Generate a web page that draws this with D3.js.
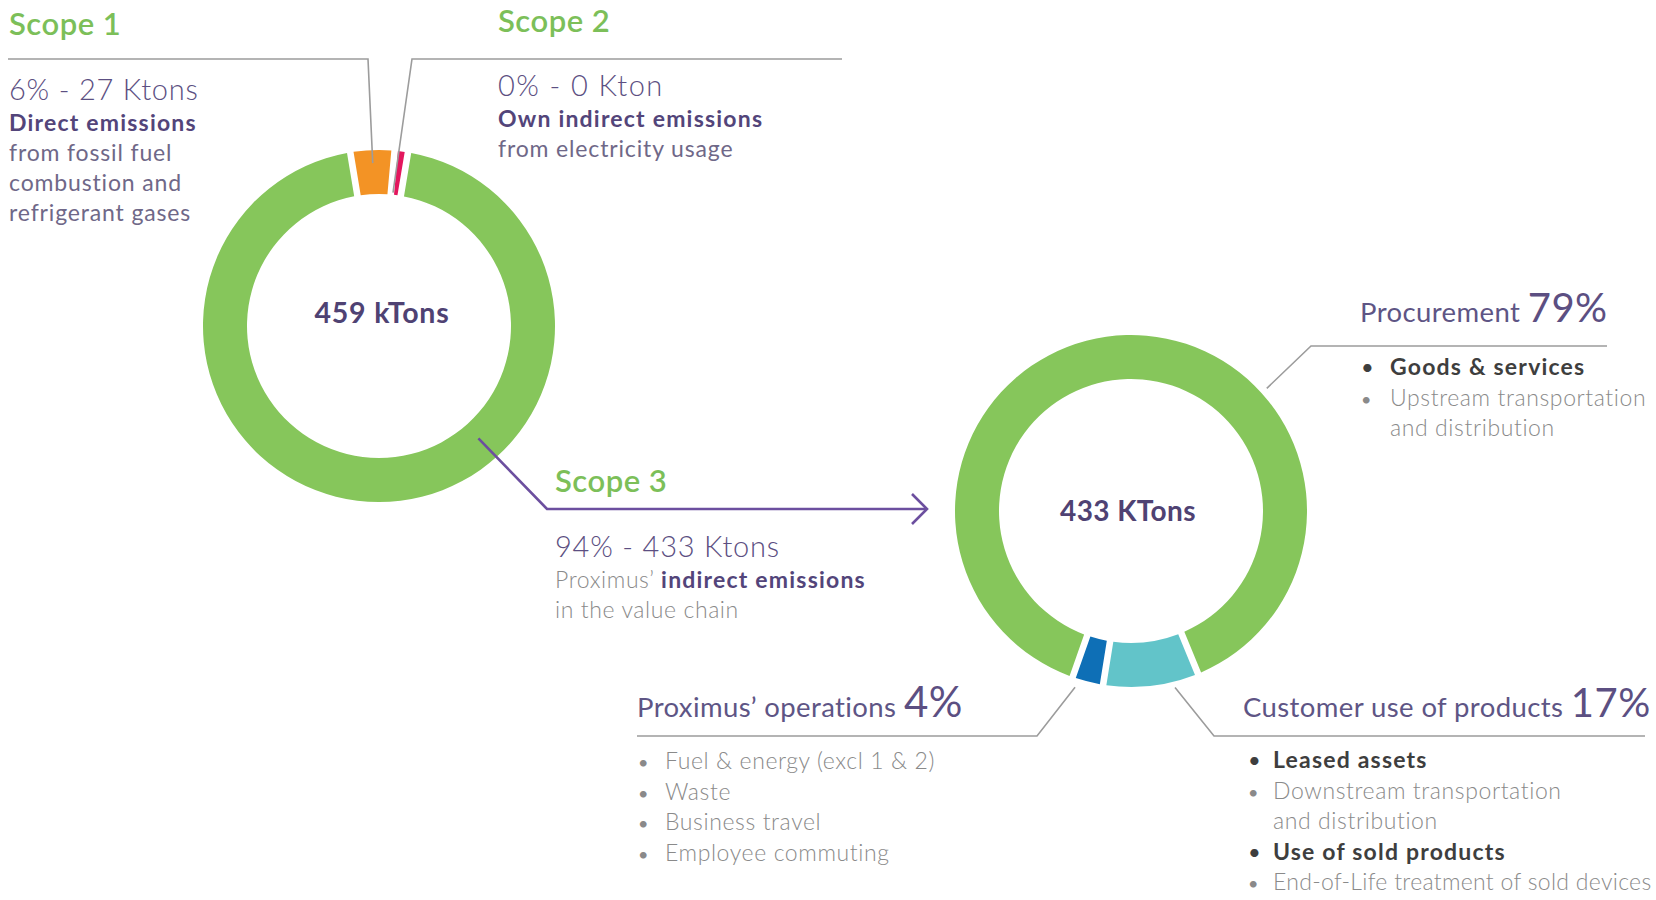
<!DOCTYPE html>
<html><head><meta charset="utf-8">
<script src="https://cdn.jsdelivr.net/npm/d3@7"></script>
<style>
html,body{margin:0;padding:0;background:#fff;}
svg text{font-family:Lato,"Noto Sans",sans-serif;}
</style></head><body>
<svg id="chart" width="1656" height="900"></svg>
<script>
// ---------------- data ----------------
const scopeNames = ["Scope 1", "Scope 2", "Scope 3"];
const scopePercents = [6, 0, 94];
const scopeKtons = [27, 0, 433];
const scopeUnits = ["Ktons", "Kton", "Ktons"];
const totalLabel = "459 kTons";
// share of the ring each slice occupies as drawn in the picture (%)
const scopeArcShares = [3.6, 0.75, 95.65];
const scopeColors = ["#f39325", "#e3175d", "#86c65b"];

const scope3Categories = ["Customer use of products", "Proximus\u2019 operations", "Procurement"];
const scope3Percents = [17, 4, 79];
const scope3ArcShares = [8.4, 2.4, 89.2];
const scope3Colors = ["#62c4c9", "#0e6fb6", "#86c65b"];
const scope3TotalLabel = "433 KTons";

const procurementItems = ["Goods & services", "Upstream transportation", "and distribution"];
const procurementBold = [true, false, false];
const procurementBullet = [true, true, false];
const operationsItems = ["Fuel & energy (excl 1 & 2)", "Waste", "Business travel", "Employee commuting"];
const customerItems = ["Leased assets", "Downstream transportation", "and distribution", "Use of sold products", "End-of-Life treatment of sold devices"];
const customerBold = [true, false, false, true, false];
const customerBullet = [true, true, false, true, true];

// ---------------- layout ----------------
const svg = d3.select("#chart");
const C1 = {x: 379, y: 326}, C2 = {x: 1131, y: 511};
const R_IN = 132, R_OUT = 176;
const rad = d => d * Math.PI / 180;
const polar = (c, r, a) => [c.x + r * Math.sin(rad(a)), c.y - r * Math.cos(rad(a))];

const arcGen = d3.arc().innerRadius(R_IN).outerRadius(R_OUT);

function donut(center, shares, colors, startDeg) {
  const pie = d3.pie().sort(null).value(d => d)
    .startAngle(rad(startDeg)).endAngle(rad(startDeg + 360)).padAngle(0.03);
  const g = svg.append("g").attr("transform", `translate(${center.x},${center.y})`);
  g.selectAll("path").data(pie(shares)).join("path")
    .attr("d", arcGen).attr("fill", (d, i) => colors[i]);
  return g;
}
donut(C1, scopeArcShares, scopeColors, -9.4);
donut(C2, scope3ArcShares, scope3Colors, 157.6);

// leader lines
const line = d3.line();
const GREY = "#9c9c9c";
function leader(pts, color, w) {
  svg.append("path").attr("d", line(pts)).attr("fill", "none")
    .attr("stroke", color).attr("stroke-width", w);
}
leader([polar(C1, 163, -2.2), [368, 59], [8, 59]], GREY, 1.6);
leader([polar(C1, 134, 6), [412, 59], [842, 59]], GREY, 1.6);
leader([polar(C2, 183, 47.9), [1311, 346], [1607, 346]], GREY, 1.6);
leader([polar(C2, 185, 197.6), [1037, 736], [637, 736]], GREY, 1.6);
leader([polar(C2, 182, 166), [1214, 736], [1645, 736]], GREY, 1.6);
// scope 3 arrow
const PURPLE = "#6c4f9f";
leader([polar(C1, 150, 138.5), [547, 509], [927, 509]], PURPLE, 2.6);
leader([[912, 494], [927, 509], [912, 524]], PURPLE, 2.6);

// rich text helper
function rich(x, y, parts, anchor) {
  const t = svg.append("text").attr("x", x).attr("y", y);
  if (anchor) t.attr("text-anchor", anchor);
  parts.forEach(p => {
    t.append("tspan").attr("font-size", p.s).attr("font-weight", p.w || 400)
      .attr("letter-spacing", p.ls || 0).attr("fill", p.c).text(p.t);
  });
  return t;
}
const GREEN = "#7cbf59", NUM = "#5c4f82", BOLDP = "#53457a", SOFT = "#6f6888",
      LIGHT = "#8a8a8a", DARK = "#3e3e3e", HEAD = "#5e5585", CENTER = "#4f4273";

// center labels
rich(C1.x + 3, 323, [{t: totalLabel, s: 28.5, w: 700, c: CENTER, ls: 0.8}], "middle");
rich(C2.x - 3, 521, [{t: scope3TotalLabel, s: 28, w: 700, c: CENTER, ls: 0.4}], "middle");

const H = {s: 31, w: 600, c: GREEN, ls: 0.5};
const N = {s: 29, w: 300, c: NUM, ls: 0.8};
const B = {s: 23, w: 700, c: BOLDP, ls: 1.2};
const S = {s: 23, w: 400, c: SOFT, ls: 0.85};
const L = {s: 23, w: 300, c: LIGHT, ls: 0.6};

// Scope 1
rich(9, 35, [{...H, t: scopeNames[0]}]);
rich(9, 100, [{...N, t: `${scopePercents[0]}% - ${scopeKtons[0]} ${scopeUnits[0]}`}]);
rich(9, 131, [{...B, t: "Direct emissions"}]);
["from fossil fuel", "combustion and", "refrigerant gases"].forEach((s, i) =>
  rich(9, 161 + i * 30, [{...S, t: s}]));

// Scope 2
rich(498, 32, [{...H, t: scopeNames[1]}]);
rich(498, 96, [{...N, t: `${scopePercents[1]}% - ${scopeKtons[1]} ${scopeUnits[1]}`, ls: 1.4}]);
rich(498, 127, [{...B, t: "Own indirect emissions"}]);
rich(498, 157, [{...S, t: "from electricity usage"}]);

// Scope 3
rich(555, 492, [{...H, t: scopeNames[2]}]);
rich(555, 557, [{...N, t: `${scopePercents[2]}% - ${scopeKtons[2]} ${scopeUnits[2]}`}]);
rich(555, 588, [{...L, t: "Proximus\u2019 "}, {...B, t: "indirect emissions"}]);
rich(555, 618, [{...L, t: "in the value chain"}]);

// Scope 3 categories
const CAT = {s: 27.5, w: 400, c: HEAD, ls: 0.4};
const PCT = {s: 40, w: 400, c: NUM, ls: 0.5};
rich(1360, 322, [{...CAT, t: scope3Categories[2] + " "}, {...PCT, t: scope3Percents[2] + "%"}]);
rich(637, 717, [{...CAT, t: scope3Categories[1] + " "}, {...PCT, t: scope3Percents[1] + "%", s: 42}]);
rich(1243, 717, [{...CAT, t: scope3Categories[0] + " "}, {...PCT, t: scope3Percents[0] + "%"}]);

function bullets(bx, tx, y0, items, bold, bullet) {
  items.forEach((s, i) => {
    const y = y0 + i * 30.5;
    if (bullet[i]) svg.append("text").attr("x", bx).attr("y", y).attr("font-size", bold[i] ? 22 : 18)
      .attr("fill", bold[i] ? DARK : LIGHT).text("\u2022");
    const t = rich(tx, y, [bold[i] ? {...B, c: DARK, t: s} : {...L, t: s}]);
    // keep the line inside the picture
    const maxW = 1652 - tx;
    const tsp = t.select("tspan");
    let ls = +tsp.attr("letter-spacing");
    while (t.node().getComputedTextLength() > maxW && ls > -0.5) {
      ls -= 0.05;
      tsp.attr("letter-spacing", ls);
    }
  });
}
bullets(1361, 1390, 375, procurementItems, procurementBold, procurementBullet);
bullets(638, 665, 769, operationsItems, operationsItems.map(() => false), operationsItems.map(() => true));
bullets(1248, 1273, 768, customerItems, customerBold, customerBullet);
</script>
</body></html>
